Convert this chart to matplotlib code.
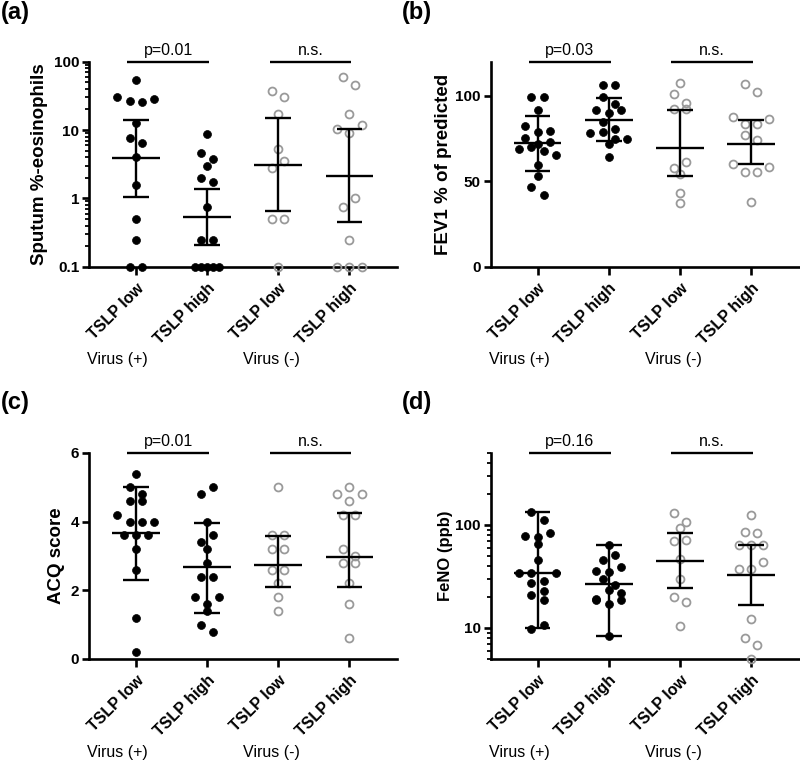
import numpy as np
import matplotlib
matplotlib.use('Agg')
import matplotlib.pyplot as plt
from matplotlib.ticker import LogLocator, NullFormatter, NullLocator
from matplotlib.transforms import blended_transform_factory

plt.rcParams['font.family'] = ['Liberation Sans', 'DejaVu Sans']

categories = ['TSLP low', 'TSLP high', 'TSLP low', 'TSLP high']
virus_labels = ['Virus (+)', 'Virus (-)']

# ---------------- (a) Sputum %-eosinophils ----------------
eos_vp_low = [54, 30.8, 26.6, 26.0, 28.2, 12.5, 7.6, 6.4, 4.07, 1.57, 0.5, 0.25, 0.1, 0.1]
eos_vp_high = [8.75, 4.57, 3.0, 3.73, 1.97, 1.75, 0.74, 0.25, 0.25, 0.1, 0.1, 0.1, 0.1, 0.1]
eos_vn_low = [37.3, 30.8, 17.0, 5.2, 2.75, 3.52, 0.5, 0.5, 0.1]
eos_vn_high = [60.3, 45.7, 17.0, 10.4, 8.96, 11.9, 0.755, 1.0, 0.25, 0.1, 0.1, 0.1]
eos_median = [3.94, 0.53, 3.08, 2.15]
eos_lower = [1.06, 0.208, 0.65, 0.456]
eos_upper = [14.0, 1.37, 14.9, 10.4]
eos_p = ['p=0.01', 'n.s.']

# ---------------- (b) FEV1 % of predicted ----------------
fev_vp_low = [99.4, 92.0, 99.4, 82.3, 78.8, 75.5, 79.6, 71.8, 73.1, 69.0, 69.8, 67.5, 65.1,
              59.6, 53.0, 46.8, 42.1]
fev_vp_high = [106.3, 106.3, 99.4, 95.5, 91.6, 90.0, 92.0, 84.8, 78.4, 80.5, 78.8, 74.7, 71.8,
               74.7, 64.3]
fev_vn_low = [107.6, 100.8, 95.9, 92.2, 92.6, 57.5, 54.2, 61.2, 43.3, 37.1]
fev_vn_high = [106.8, 102.3, 87.4, 83.3, 83.3, 86.4, 77.0, 74.1, 59.9, 55.4, 55.4, 58.1, 37.7]
fev_median = [72.2, 85.8, 69.6, 71.8]
fev_lower = [56.2, 73.7, 53.0, 59.9]
fev_upper = [88.3, 98.5, 91.6, 85.8]
fev_p = ['p=0.03', 'n.s.']

# ---------------- (c) ACQ score ----------------
acq_vp_low = [5.4, 5.0, 4.8, 4.6, 4.6, 4.2, 4.0, 4.0, 4.0, 3.6, 3.6, 3.6, 3.2, 2.6, 1.2, 0.2]
acq_vp_high = [4.8, 5.0, 4.0, 3.4, 3.6, 3.2, 2.8, 2.4, 2.4, 1.8, 1.6, 1.8, 1.4, 1.0, 0.8]
acq_vn_low = [5.0, 3.6, 3.6, 3.2, 3.2, 2.6, 2.6, 2.2, 1.8, 1.4]
acq_vn_high = [4.8, 5.0, 4.8, 4.6, 4.2, 4.2, 3.2, 3.0, 2.8, 2.8, 2.2, 1.6, 0.6]
acq_median = [3.66, 2.67, 2.74, 2.96]
acq_lower = [2.30, 1.35, 2.11, 2.09]
acq_upper = [5.01, 3.97, 3.58, 4.26]
acq_p = ['p=0.01', 'n.s.']

# ---------------- (d) FeNO (ppb) ----------------
feno_vp_low = [135, 112, 78, 76.7, 82.8, 66, 46, 34.3, 34.3, 28.3, 34.3, 27.1, 22.9, 20.8, 18.7,
               9.8, 10.8]
feno_vp_high = [63.6, 46, 50.7, 36.1, 34.8, 39.5, 29.6, 26.3, 19.3, 23.3, 22.1, 18.6, 17.2, 18.7, 8.4]
feno_vn_low = [132, 107.8, 92.8, 70, 71.2, 46.3, 29.9, 20.0, 18.0, 10.5]
feno_vn_high = [125.4, 84.7, 84.0, 64.6, 64.6, 64.6, 37.4, 37.4, 43.6, 12.3, 8.0, 6.9, 5.0]
feno_median = [34.3, 26.7, 45.0, 32.5]
feno_lower = [9.9, 8.4, 24.2, 16.7]
feno_upper = [135, 63.6, 82.8, 63.6]
feno_p = ['p=0.16', 'n.s.']

# ---------------- figure ----------------
W, H = 800, 762
fig = plt.figure(figsize=(W / 100, H / 100), dpi=100)

LW = 1.7
GRAY = '#9a9a9a'
MS = 5.7


def swarm_x(ax, xc, values, row_px=9.5, step_px=12.3):
    pts = ax.transData.transform(np.column_stack([np.full(len(values), float(xc)), values]))
    ys = pts[:, 1]
    order = sorted(range(len(values)), key=lambda i: (-ys[i], i))
    rows, cur, start = [], [], None
    for i in order:
        if cur and start - ys[i] < row_px:
            cur.append(i)
        else:
            if cur:
                rows.append(cur)
            cur, start = [i], ys[i]
    if cur:
        rows.append(cur)
    xs = np.zeros(len(values))
    inv = ax.transData.inverted()
    for row in rows:
        row = sorted(row)
        n = len(row)
        step = step_px if n < 5 else step_px / 2
        for k, i in enumerate(row):
            off = (k - (n - 1) / 2) * step
            xs[i] = inv.transform((pts[i, 0] + off, pts[i, 1]))[0]
    return xs


def make_panel(rect, groups, med, lo, hi, ylabel, ylabel_x, ylabel_size, pvals,
               yscale, ylim, yticks, yticklabels, minor=False):
    ax = fig.add_axes(rect)
    ax.set_yscale(yscale)
    ax.set_xlim(-0.66, 3.67)
    ax.set_ylim(*ylim)
    for s in ['top', 'right']:
        ax.spines[s].set_visible(False)
    for s in ['left', 'bottom']:
        ax.spines[s].set_linewidth(1.9)
    ax.set_yticks(yticks, labels=yticklabels, fontweight='bold', fontsize=11)
    if minor:
        ax.yaxis.set_minor_locator(LogLocator(base=10, subs=np.arange(2, 10)))
        ax.yaxis.set_minor_formatter(NullFormatter())
    else:
        ax.yaxis.set_minor_locator(NullLocator())
    ax.set_xticks(range(4), labels=categories, fontweight='bold', fontsize=11.5,
                  rotation=45, ha='right', rotation_mode='anchor')
    ax.xaxis.set_minor_locator(NullLocator())
    ax.tick_params(axis='y', which='major', length=5, width=1.9, pad=2)
    ax.tick_params(axis='y', which='minor', length=3, width=1.3)
    ax.tick_params(axis='x', which='major', length=6, width=1.9, pad=4)

    for i, vals in enumerate(groups):
        xs = swarm_x(ax, i, vals)
        if i < 2:
            ax.plot(xs, vals, 'o', ms=MS, mfc='k', mec='k', mew=0.5, ls='none',
                    clip_on=False, zorder=3)
        else:
            ax.plot(xs, vals, 'o', ms=MS, mfc='none', mec=GRAY, mew=1.3, ls='none',
                    clip_on=False, zorder=3)
        ax.plot([i, i], [lo[i], hi[i]], color='k', lw=LW, zorder=4, solid_capstyle='butt')
        for yv in (lo[i], hi[i]):
            ax.plot([i - 0.18, i + 0.18], [yv, yv], color='k', lw=LW, zorder=4,
                    solid_capstyle='butt')
        ax.plot([i - 0.335, i + 0.335], [med[i], med[i]], color='k', lw=LW, zorder=4,
                solid_capstyle='butt')

    bt = blended_transform_factory(ax.transData, ax.transAxes)
    for j, ptxt in enumerate(pvals):
        x0, x1 = 2 * j - 0.12, 2 * j + 1 + 0.03
        ax.plot([x0, x1], [1.0, 1.0], color='k', lw=LW, transform=bt, clip_on=False,
                solid_capstyle='butt')
        ax.annotate(ptxt, xy=((x0 + x1) / 2, 1.0), xycoords=bt, xytext=(0, 3),
                    textcoords='offset points', ha='center', va='bottom', fontsize=11.5)
    for j, vt in enumerate(virus_labels):
        ax.text(-0.26 + 2.17 * j, -0.455, vt, transform=bt, ha='center', va='center',
                fontsize=11.5)

    ax.set_ylabel(ylabel, fontweight='bold', fontsize=ylabel_size)
    ax.yaxis.set_label_coords(ylabel_x, 0.5)
    return ax


top_b, top_h = 1 - 266.7 / H, 205 / H
bot_b, bot_h = 1 - 659 / H, 206 / H
left_a, left_b, w = 89 / W, 490.7 / W, 308 / W

make_panel([left_a, top_b, w, top_h],
           [eos_vp_low, eos_vp_high, eos_vn_low, eos_vn_high],
           eos_median, eos_lower, eos_upper, 'Sputum %-eosinophils', -0.133, 13.5, eos_p,
           'log', (0.1, 100), [0.1, 1, 10, 100], ['0.1', '1', '10', '100'], minor=True)
make_panel([left_b, top_b, w, top_h],
           [fev_vp_low, fev_vp_high, fev_vn_low, fev_vn_high],
           fev_median, fev_lower, fev_upper, 'FEV1 % of predicted', -0.127, 13.5, fev_p,
           'linear', (0, 120), [0, 50, 100], ['0', '50', '100'])
make_panel([left_a, bot_b, w, bot_h],
           [acq_vp_low, acq_vp_high, acq_vn_low, acq_vn_high],
           acq_median, acq_lower, acq_upper, 'ACQ score', -0.078, 13.5, acq_p,
           'linear', (0, 6), [0, 2, 4, 6], ['0', '2', '4', '6'])
make_panel([left_b, bot_b, w, bot_h],
           [feno_vp_low, feno_vp_high, feno_vn_low, feno_vn_high],
           feno_median, feno_lower, feno_upper, 'FeNO (ppb)', -0.121, 12, feno_p,
           'log', (5, 500), [10, 100], ['10', '100'], minor=True)

for lab, x, y in [('(a)', 1, 761), ('(b)', 402, 761), ('(c)', 1, 371), ('(d)', 402, 371)]:
    fig.text(x / W, y / H, lab, fontsize=17, fontweight='bold', ha='left', va='top')

fig.savefig('out.png', dpi=100)
